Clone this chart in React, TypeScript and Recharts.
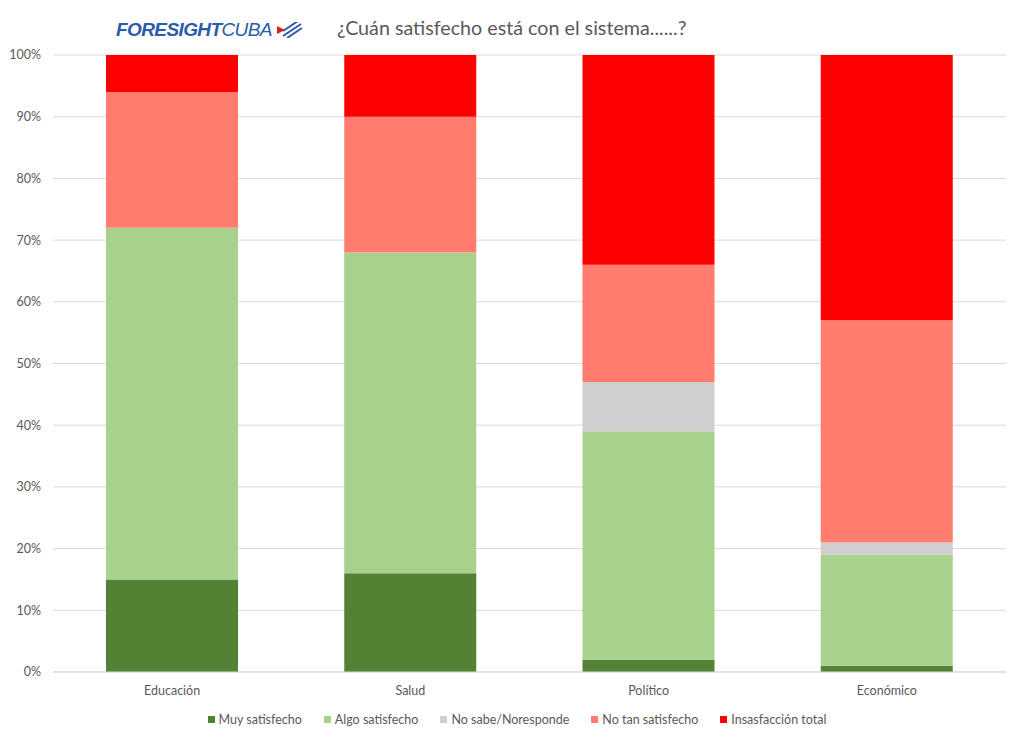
import React from 'react';
import { BarChart, Bar, XAxis, YAxis, CartesianGrid, Legend } from 'recharts';

const CATEGORIES = ['Educación', 'Salud', 'Político', 'Económico'];
const MUY_SATISFECHO = [15, 16, 2, 1];
const ALGO_SATISFECHO = [57, 52, 37, 18];
const NO_SABE = [0, 0, 8, 2];
const NO_TAN_SATISFECHO = [22, 22, 19, 36];
const INSATISFACCION = [6, 10, 34, 43];
const Y_TICKS = [0, 0.1, 0.2, 0.3, 0.4, 0.5, 0.6, 0.7, 0.8, 0.9, 1];

const SERIES = [
  { key: 'muy', name: 'Muy satisfecho', color: '#548235', values: MUY_SATISFECHO },
  { key: 'algo', name: 'Algo satisfecho', color: '#A9D18E', values: ALGO_SATISFECHO },
  { key: 'nosabe', name: 'No sabe/Noresponde', color: '#D0CECE', values: NO_SABE },
  { key: 'notan', name: 'No tan satisfecho', color: '#FF7C6E', values: NO_TAN_SATISFECHO },
  { key: 'insat', name: 'Insasfacción total', color: '#FF0000', values: INSATISFACCION },
];

const data = CATEGORIES.map((cat, i) => {
  const row: Record<string, string | number> = { name: cat };
  SERIES.forEach((s) => {
    row[s.key] = s.values[i] / 100;
  });
  return row;
});

const FONT = 'Lato, "Open Sans", sans-serif';

const LegendContent = () => (
  <div style={{ display: 'flex', justifyContent: 'center', paddingLeft: 28, fontFamily: FONT, fontSize: 12.5, color: '#595959' }}>
    {SERIES.map((s, i) => (
      <div key={s.key} style={{ display: 'flex', alignItems: 'center', marginRight: i < SERIES.length - 1 ? 22 : 0 }}>
        <span style={{ width: 7, height: 7, background: s.color, display: 'inline-block', marginRight: 4 }} />
        <span>{s.name}</span>
      </div>
    ))}
  </div>
);

const Logo = () => (
  <div style={{ position: 'absolute', left: 116, top: 19, display: 'flex', alignItems: 'center', fontFamily: '"Liberation Sans", Arial, sans-serif', fontStyle: 'italic', fontSize: 19, color: '#2A5CA8', letterSpacing: -0.6 }}>
    <span style={{ fontWeight: 'bold' }}>FORESIGHT</span>
    <span>CUBA</span>
    <svg width="28" height="16" style={{ marginLeft: 3 }}>
      <polygon points="2,4 10,8 2,12" fill="#E02020" />
      <line x1="8" y1="14" x2="26" y2="2" stroke="#2A5CA8" strokeWidth="2" />
      <line x1="8" y1="9" x2="26" y2="-3" stroke="#2A5CA8" strokeWidth="2" />
      <line x1="12" y1="16" x2="27" y2="6" stroke="#2A5CA8" strokeWidth="2" />
    </svg>
  </div>
);

const App: React.FC = () => {
  return (
    <div style={{ position: 'absolute', left: 0, top: 0, width: 1024, height: 742, background: '#fff' }}>
      <Logo />
      <div style={{ position: 'absolute', left: 337, top: 16, fontFamily: FONT, fontSize: 19.7, color: '#595959' }}>
        ¿Cuán satisfecho está con el sistema......?
      </div>
      <BarChart width={1024} height={742} data={data} margin={{ top: 55, right: 18, bottom: 1, left: 0 }}>
        <CartesianGrid vertical={false} stroke="#D9D9D9" />
        <XAxis
          dataKey="name"
          tickLine={false}
          axisLine={{ stroke: '#D9D9D9' }}
          tick={{ fill: '#595959', fontSize: 12.5, fontFamily: FONT }}
          tickMargin={8}
          height={40}
        />
        <YAxis
          width={53}
          domain={[0, 1]}
          ticks={Y_TICKS}
          tickFormatter={(v: number) => `${Math.round(v * 100)}%`}
          tickLine={false}
          axisLine={false}
          tickMargin={6}
          tick={{ fill: '#595959', fontSize: 12.5, fontFamily: FONT }}
        />
        <Legend verticalAlign="bottom" height={29} content={<LegendContent />} />
        {SERIES.map((s) => (
          <Bar key={s.key} dataKey={s.key} name={s.name} stackId="a" fill={s.color} barSize={132} isAnimationActive={false} />
        ))}
      </BarChart>
    </div>
  );
};

export default App;
